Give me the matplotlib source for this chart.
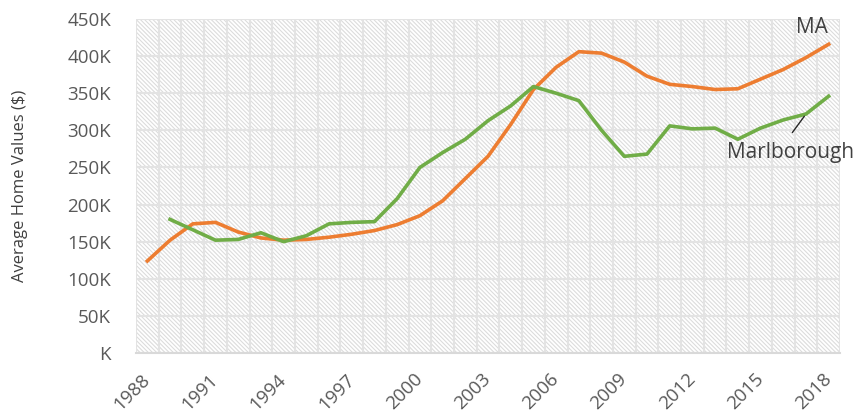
import matplotlib
matplotlib.use('Agg')
import matplotlib.pyplot as plt
from matplotlib.patches import Rectangle

plt.rcParams['font.family'] = ['Open Sans', 'DejaVu Sans']
plt.rcParams['hatch.linewidth'] = 0.8

years = list(range(1988, 2019))
# MA average home values ($)
ma = [124000, 152000, 174000, 176000, 163000, 155000, 152000, 153000, 156000, 160000,
      165000, 173000, 185000, 205000, 235000, 265000, 308000, 355000, 385000, 406000,
      404000, 392000, 373000, 362000, 359000, 355000, 356000, 369000, 382000, 398000, 416000]
# Marlborough starts in 1989
marl_years = list(range(1989, 2019))
marl = [180000, 166000, 152000, 153000, 162000, 150000, 158000, 174000, 176000, 177000,
        208000, 250000, 270000, 288000, 313000, 333000, 359000, 350000, 340000, 300000,
        265000, 268000, 306000, 302000, 303000, 288000, 303000, 314000, 322000, 346000]

xtick_years = list(range(1988, 2019, 3))
ytick_vals = list(range(0, 450001, 50000))
ytick_labels = ['K', '50K', '100K', '150K', '200K', '250K', '300K', '350K', '400K', '450K']

orange = '#ED7D31'
green = '#70AD47'
txt = '#595959'

fig = plt.figure(figsize=(8.57, 4.17), dpi=100)
ax = fig.add_axes([0.1587, 0.1535, 0.9802 - 0.1587, 0.9544 - 0.1535])

# hatched plot area (light downward diagonal)
ax.add_patch(Rectangle((0, 0), 1, 1, transform=ax.transAxes, facecolor='white',
                       edgecolor='#dcdcdc', lw=0, hatch='\\' * 8, zorder=0.1))

ax.plot(years, ma, color=orange, lw=2.6, solid_joinstyle='round', zorder=3)
ax.plot(marl_years, marl, color=green, lw=2.6, solid_joinstyle='round', zorder=3)

ax.set_xlim(years[0] - 0.5, years[-1] + 0.5)
ax.set_ylim(0, 450000)

ax.set_xticks(xtick_years)
ax.set_xticklabels([str(y) for y in xtick_years], rotation=45, ha='right', va='center',
                   rotation_mode='anchor', fontsize=13.5, color=txt)
ax.set_xticks([y - 0.5 for y in years] + [years[-1] + 0.5], minor=True)
ax.set_yticks(ytick_vals)
ax.set_yticklabels(ytick_labels, fontsize=13.5, color=txt)
ax.tick_params(axis='both', which='both', length=0)
ax.tick_params(axis='y', pad=18)
ax.tick_params(axis='x', pad=17)

ax.set_axisbelow(True)
ax.grid(axis='y', which='major', color='#e3e3e3', lw=1.5)
ax.grid(axis='x', which='minor', color='#e3e3e3', lw=1.5)
for s in ['top', 'right', 'left']:
    ax.spines[s].set_visible(False)
ax.spines['bottom'].set_color('#d9d9d9')
ax.spines['bottom'].set_linewidth(1.5)

ax.set_ylabel('Average Home Values ($)', fontsize=12, color='#404040')
ax.yaxis.set_label_coords(-0.153, 0.5)

ax.text(2017.27, 438000, 'MA', fontsize=15, color='#404040', ha='center', va='center')
ax.text(2016.3, 270000, 'Marlborough', fontsize=15, color='#404040', ha='center', va='center')
# leader line from label to the Marlborough series
ax.annotate('', xy=(2017, 322000), xytext=(2016.4, 297000),
            arrowprops=dict(arrowstyle='-', color='#262626', lw=1, shrinkA=0, shrinkB=2))

fig.savefig('out.png', dpi=100)
